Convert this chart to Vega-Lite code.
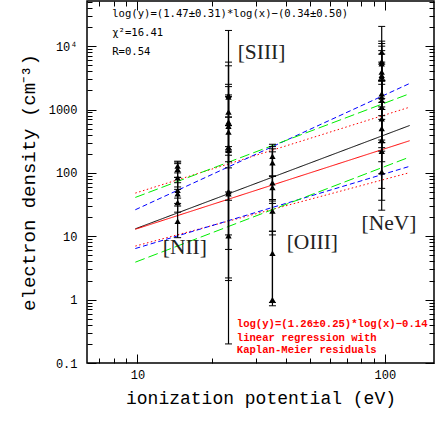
{
  "$schema": "https://vega.github.io/schema/vega-lite/v6.json",
  "width": 347,
  "height": 362,
  "autosize": {"type": "none"},
  "padding": {"left": 87, "top": 1, "right": 2, "bottom": 73},
  "background": "white",
  "config": {"view": {"stroke": "black", "strokeWidth": 1.5}},
  "datasets": {
    "pts": [
      {"ion": "NII", "ip": 14.53, "y": 129, "lo": 100, "hi": 153},
      {"ion": "NII", "ip": 14.53, "y": 114, "lo": 85, "hi": 148},
      {"ion": "NII", "ip": 14.53, "y": 84, "lo": 60, "hi": 140},
      {"ion": "NII", "ip": 14.53, "y": 53, "lo": 40, "hi": 85},
      {"ion": "NII", "ip": 14.53, "y": 47, "lo": 33, "hi": 70},
      {"ion": "NII", "ip": 14.53, "y": 34, "lo": 24, "hi": 55},
      {"ion": "NII", "ip": 14.53, "y": 17.3, "lo": 9.5, "hi": 30},
      {"ion": "SIII", "ip": 23.33, "y": 1673, "lo": 560, "hi": 17700},
      {"ion": "SIII", "ip": 23.33, "y": 1575, "lo": 760, "hi": 5600},
      {"ion": "SIII", "ip": 23.33, "y": 914, "lo": 215, "hi": 4900},
      {"ion": "SIII", "ip": 23.33, "y": 637, "lo": 190, "hi": 2500},
      {"ion": "SIII", "ip": 23.33, "y": 599, "lo": 150, "hi": 2300},
      {"ion": "SIII", "ip": 23.33, "y": 544, "lo": 37, "hi": 1700},
      {"ion": "SIII", "ip": 23.33, "y": 443, "lo": 120, "hi": 1600},
      {"ion": "SIII", "ip": 23.33, "y": 257, "lo": 6.2, "hi": 760},
      {"ion": "SIII", "ip": 23.33, "y": 228, "lo": 2.2, "hi": 560},
      {"ion": "SIII", "ip": 23.33, "y": 51, "lo": 2.0, "hi": 260},
      {"ion": "SIII", "ip": 23.33, "y": 47, "lo": 10.5, "hi": 230},
      {"ion": "SIII", "ip": 23.33, "y": 10.2, "lo": 0.2, "hi": 50},
      {"ion": "OIII", "ip": 35.12, "y": 183, "lo": 90, "hi": 283},
      {"ion": "OIII", "ip": 35.12, "y": 144, "lo": 38, "hi": 260},
      {"ion": "OIII", "ip": 35.12, "y": 70, "lo": 33, "hi": 240},
      {"ion": "OIII", "ip": 35.12, "y": 59, "lo": 12, "hi": 215},
      {"ion": "OIII", "ip": 35.12, "y": 25, "lo": 10.5, "hi": 88},
      {"ion": "OIII", "ip": 35.12, "y": 5.4, "lo": 0.9, "hi": 36},
      {"ion": "OIII", "ip": 35.12, "y": 1.0, "lo": 0.8, "hi": 12},
      {"ion": "NeV", "ip": 97.11, "y": 8060, "lo": 2850, "hi": 20500},
      {"ion": "NeV", "ip": 97.11, "y": 5740, "lo": 1100, "hi": 12000},
      {"ion": "NeV", "ip": 97.11, "y": 5280, "lo": 1500, "hi": 11000},
      {"ion": "NeV", "ip": 97.11, "y": 3900, "lo": 800, "hi": 10000},
      {"ion": "NeV", "ip": 97.11, "y": 3460, "lo": 700, "hi": 8500},
      {"ion": "NeV", "ip": 97.11, "y": 3260, "lo": 1000, "hi": 7500},
      {"ion": "NeV", "ip": 97.11, "y": 1780, "lo": 330, "hi": 5600},
      {"ion": "NeV", "ip": 97.11, "y": 1575, "lo": 300, "hi": 5200},
      {"ion": "NeV", "ip": 97.11, "y": 1395, "lo": 220, "hi": 2900},
      {"ion": "NeV", "ip": 97.11, "y": 1097, "lo": 250, "hi": 2850},
      {"ion": "NeV", "ip": 97.11, "y": 718, "lo": 150, "hi": 2800},
      {"ion": "NeV", "ip": 97.11, "y": 500, "lo": 97, "hi": 2500},
      {"ion": "NeV", "ip": 97.11, "y": 327, "lo": 57, "hi": 1300},
      {"ion": "NeV", "ip": 97.11, "y": 219, "lo": 37, "hi": 1000},
      {"ion": "NeV", "ip": 97.11, "y": 104, "lo": 25.8, "hi": 300}
    ],
    "fits": [
      {"line": "fit", "style": "fit", "x": 9.8, "y": 13.1},
      {"line": "fit", "style": "fit", "x": 126, "y": 560},
      {"line": "km", "style": "km", "x": 9.8, "y": 12.9},
      {"line": "km", "style": "km", "x": 126, "y": 322},
      {"line": "km_hi", "style": "km_err", "x": 9.8, "y": 48},
      {"line": "km_hi", "style": "km_err", "x": 126, "y": 1090},
      {"line": "km_lo", "style": "km_err", "x": 9.8, "y": 7.0},
      {"line": "km_lo", "style": "km_err", "x": 126, "y": 101},
      {"line": "b_hi", "style": "blue", "x": 9.8, "y": 26.2},
      {"line": "b_hi", "style": "blue", "x": 126, "y": 2580},
      {"line": "b_lo", "style": "blue", "x": 9.8, "y": 6.4},
      {"line": "b_lo", "style": "blue", "x": 126, "y": 127},
      {"line": "g_hi", "style": "green", "x": 9.8, "y": 41},
      {"line": "g_hi", "style": "green", "x": 126, "y": 1780},
      {"line": "g_lo", "style": "green", "x": 9.8, "y": 3.9},
      {"line": "g_lo", "style": "green", "x": 126, "y": 178}
    ],
    "blackNotes": [
      {"x": 7.9, "y": 31900, "text": "log(y)=(1.47±0.31)*log(x)−(0.34±0.50)"},
      {"x": 7.9, "y": 16000, "text": "χ²=16.41"},
      {"x": 7.9, "y": 8130, "text": "R=0.54"}
    ],
    "redNotes": [
      {"x": 25.2, "y": 0.414, "text": "log(y)=(1.26±0.25)*log(x)−0.14"},
      {"x": 25.2, "y": 0.252, "text": "linear regression with"},
      {"x": 25.2, "y": 0.161, "text": "Kaplan-Meier residuals"}
    ],
    "ionLabels": [
      {"x": 12.65, "y": 6.47, "text": "[NII]"},
      {"x": 25.4, "y": 7840, "text": "[SIII]"},
      {"x": 40.1, "y": 7.84, "text": "[OIII]"},
      {"x": 80.5, "y": 15.5, "text": "[NeV]"}
    ]
  },
  "resolve": {"axis": {"x": "independent", "y": "independent"}},
  "layer": [
    {
      "data": {"name": "fits"},
      "mark": {"type": "line", "strokeWidth": 1, "clip": true},
      "encoding": {
        "x": {"field": "x", "type": "quantitative",
          "scale": {"type": "log", "domain": [6.25, 158], "nice": false},
          "axis": {"orient": "bottom", "values": [10, 100], "format": "~g", "tickSize": -9, "tickColor": "black", "tickWidth": 1,
            "domain": false, "grid": false, "labelPadding": 15, "labelFont": "Liberation Mono", "labelFontSize": 12, "labelColor": "black",
            "title": "ionization potential (eV)", "titleFont": "Liberation Mono", "titleFontSize": 18, "titleFontWeight": "normal", "titleColor": "black", "titlePadding": 9}},
        "y": {"field": "y", "type": "quantitative",
          "scale": {"type": "log", "domain": [0.1, 51600], "nice": false},
          "axis": {"orient": "left", "values": [0.1, 1, 10, 100, 1000, 10000], "format": "~g", "labelExpr": "datum.value > 5000 ? '10⁴' : datum.label",
            "tickSize": -9, "tickColor": "black", "tickWidth": 1, "domain": false, "grid": false, "labelPadding": 19,
            "labelFont": "Liberation Mono", "labelFontSize": 12, "labelColor": "black",
            "title": "electron density (cm⁻³)", "titleFont": "Liberation Mono", "titleFontSize": 19, "titleFontWeight": "normal", "titleColor": "black", "titlePadding": 10}},
        "detail": {"field": "line"},
        "color": {"field": "style", "type": "nominal", "legend": null,
          "scale": {"domain": ["fit", "km", "km_err", "blue", "green"], "range": ["#000000", "#ff0000", "#ff0000", "#0000ff", "#00ee00"]}},
        "strokeDash": {"field": "style", "type": "nominal", "legend": null,
          "scale": {"domain": ["fit", "km", "km_err", "blue", "green"], "range": [[1, 0], [1, 0], [1.5, 2.5], [5, 3], [10, 4]]}}
      }
    },
    {
      "data": {"name": "pts"},
      "mark": {"type": "rule", "color": "black", "strokeWidth": 1.2},
      "encoding": {
        "x": {"field": "ip", "type": "quantitative",
          "scale": {"type": "log", "domain": [6.25, 158], "nice": false},
          "axis": {"orient": "bottom", "values": [7, 8, 9, 20, 30, 40, 50, 60, 70, 80, 90], "labels": false, "tickSize": -5, "tickColor": "black", "tickWidth": 1, "domain": false, "grid": false, "title": null}},
        "y": {"field": "lo", "type": "quantitative",
          "scale": {"type": "log", "domain": [0.1, 51600], "nice": false},
          "axis": {"orient": "left", "values": [0.2, 0.3, 0.4, 0.5, 0.6, 0.7, 0.8, 0.9, 2, 3, 4, 5, 6, 7, 8, 9, 20, 30, 40, 50, 60, 70, 80, 90, 200, 300, 400, 500, 600, 700, 800, 900, 2000, 3000, 4000, 5000, 6000, 7000, 8000, 9000, 20000, 30000, 40000, 50000],
            "labels": false, "tickSize": -5, "tickColor": "black", "tickWidth": 1, "domain": false, "grid": false, "title": null}},
        "y2": {"field": "hi"}
      }
    },
    {
      "data": {"name": "pts"},
      "transform": [{"fold": ["lo", "hi"], "as": ["end", "cap"]}],
      "mark": {"type": "tick", "orient": "horizontal", "color": "black", "size": 7, "thickness": 1, "opacity": 1},
      "encoding": {
        "x": {"field": "ip", "type": "quantitative",
          "scale": {"type": "log", "domain": [6.25, 158], "nice": false},
          "axis": {"orient": "top", "values": [10, 100], "labels": false, "tickSize": -9, "tickColor": "black", "tickWidth": 1, "domain": false, "grid": false, "title": null}},
        "y": {"field": "cap", "type": "quantitative",
          "scale": {"type": "log", "domain": [0.1, 51600], "nice": false},
          "axis": {"orient": "right", "values": [0.1, 1, 10, 100, 1000, 10000], "labels": false, "tickSize": -9, "tickColor": "black", "tickWidth": 1, "domain": false, "grid": false, "title": null}}
      }
    },
    {
      "data": {"name": "pts"},
      "mark": {"type": "point", "shape": "triangle-up", "filled": true, "color": "black", "size": 40, "opacity": 1},
      "encoding": {
        "x": {"field": "ip", "type": "quantitative",
          "scale": {"type": "log", "domain": [6.25, 158], "nice": false},
          "axis": {"orient": "top", "values": [7, 8, 9, 20, 30, 40, 50, 60, 70, 80, 90], "labels": false, "tickSize": -5, "tickColor": "black", "tickWidth": 1, "domain": false, "grid": false, "title": null}},
        "y": {"field": "y", "type": "quantitative",
          "scale": {"type": "log", "domain": [0.1, 51600], "nice": false},
          "axis": {"orient": "right", "values": [0.2, 0.3, 0.4, 0.5, 0.6, 0.7, 0.8, 0.9, 2, 3, 4, 5, 6, 7, 8, 9, 20, 30, 40, 50, 60, 70, 80, 90, 200, 300, 400, 500, 600, 700, 800, 900, 2000, 3000, 4000, 5000, 6000, 7000, 8000, 9000, 20000, 30000, 40000, 50000],
            "labels": false, "tickSize": -5, "tickColor": "black", "tickWidth": 1, "domain": false, "grid": false, "title": null}}
      }
    },
    {
      "data": {"name": "blackNotes"},
      "mark": {"type": "text", "align": "left", "baseline": "middle", "font": "DejaVu Sans Mono", "fontSize": 10.6, "color": "black"},
      "encoding": {
        "x": {"field": "x", "type": "quantitative", "scale": {"type": "log", "domain": [6.25, 158], "nice": false}, "axis": null},
        "y": {"field": "y", "type": "quantitative", "scale": {"type": "log", "domain": [0.1, 51600], "nice": false}, "axis": null},
        "text": {"field": "text"}
      }
    },
    {
      "data": {"name": "redNotes"},
      "mark": {"type": "text", "align": "left", "baseline": "middle", "font": "Liberation Mono", "fontWeight": "bold", "fontSize": 10.6, "color": "#ff0000"},
      "encoding": {
        "x": {"field": "x", "type": "quantitative", "scale": {"type": "log", "domain": [6.25, 158], "nice": false}, "axis": null},
        "y": {"field": "y", "type": "quantitative", "scale": {"type": "log", "domain": [0.1, 51600], "nice": false}, "axis": null},
        "text": {"field": "text"}
      }
    },
    {
      "data": {"name": "ionLabels"},
      "mark": {"type": "text", "align": "left", "baseline": "middle", "font": "Liberation Serif", "fontSize": 21.5, "color": "#222222"},
      "encoding": {
        "x": {"field": "x", "type": "quantitative", "scale": {"type": "log", "domain": [6.25, 158], "nice": false}, "axis": null},
        "y": {"field": "y", "type": "quantitative", "scale": {"type": "log", "domain": [0.1, 51600], "nice": false}, "axis": null},
        "text": {"field": "text"}
      }
    }
  ]
}
